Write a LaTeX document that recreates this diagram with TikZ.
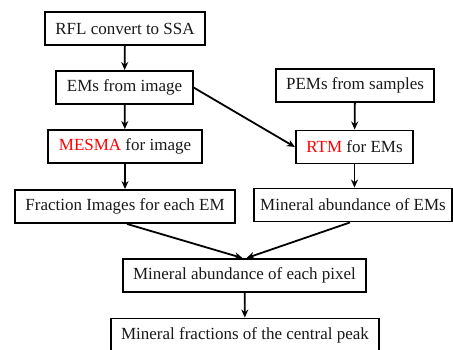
\documentclass[tikz,border=0pt]{standalone}
\usepackage{fontspec}
\setmainfont{Liberation Serif}
\usepackage{tikz}
\usetikzlibrary{arrows.meta}

\begin{document}
\begin{tikzpicture}[x=1pt,y=-1pt,
    stepbox/.style={draw=black, line width=1.9pt, inner xsep=10.5pt, minimum height=33pt,
        font=\rmfamily\fontsize{17}{20}\selectfont, text=black!90},
    flow/.style={-{Stealth[length=8pt,width=7pt]}, line width=1.8pt}]

    \useasboundingbox (0,0) rectangle (453,350);

    % left column
    \node[stepbox] (rfl) at (125,28.5) {RFL convert to SSA};
    \node[stepbox] (emimg) at (124.5,87.5) {EMs from image};
    \node[stepbox] (mesma) at (125,146.5) {\textcolor{red}{MESMA} for image};
    \node[stepbox] (frac) at (125,206.5) {Fraction Images for each EM};

    % right column
    \node[stepbox] (pems) at (355,85.5) {PEMs from samples};
    \node[stepbox] (rtm) at (354.5,147) {\textcolor{red}{RTM} for EMs};
    \node[stepbox, inner xsep=6.5pt] (minem) at (353,205) {Mineral abundance of EMs};

    % bottom
    \node[stepbox] (pixel) at (244.5,275.5) {Mineral abundance of each pixel};
    \node[stepbox] (peak) at (245,335) {Mineral fractions of the central peak};

    % arrows
    \draw[flow] (rfl) -- (emimg);
    \draw[flow] (emimg) -- (mesma);
    \draw[flow] (mesma) -- (frac);
    \draw[flow] (emimg.east) -- (rtm.west);
    \draw[flow] (pems) -- (rtm);
    \draw[flow] (rtm) -- (minem.north -| rtm);
    \draw[flow] ([xshift=2pt]frac.south) -- ([xshift=-2pt]pixel.north);
    \draw[flow] ([xshift=-3pt]minem.south) -- ([xshift=2pt]pixel.north);
    \draw[flow] (pixel) -- (peak);
\end{tikzpicture}
\end{document}
